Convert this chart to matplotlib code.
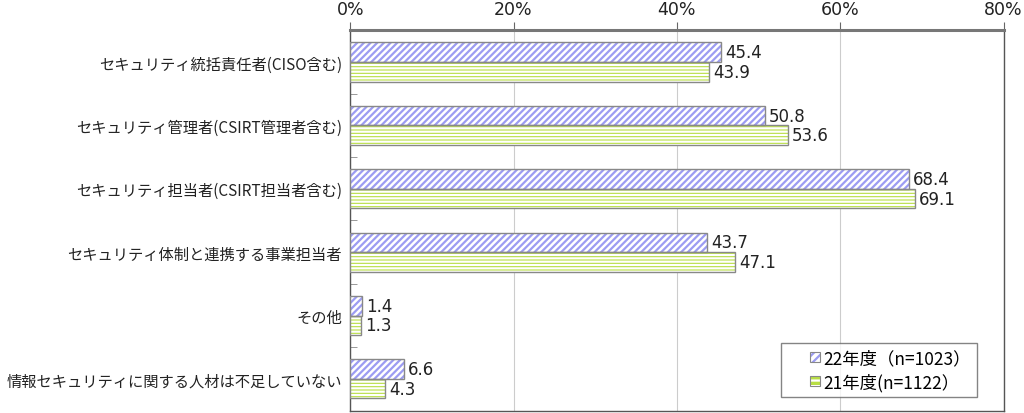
import numpy as np
import matplotlib.pyplot as plt
from matplotlib.patches import Patch, Rectangle
from matplotlib.legend_handler import HandlerPatch, HandlerTuple

plt.rcParams['font.family'] = ['Noto Sans CJK JP', 'DejaVu Sans']
plt.rcParams['hatch.linewidth'] = 1.6

categories = [
    'セキュリティ統括責任者(CISO含む)',
    'セキュリティ管理者(CSIRT管理者含む)',
    'セキュリティ担当者(CSIRT担当者含む)',
    'セキュリティ体制と連携する事業担当者',
    'その他',
    '情報セキュリティに関する人材は不足していない',
]
fy22 = [45.4, 50.8, 68.4, 43.7, 1.4, 6.6]
fy21 = [43.9, 53.6, 69.1, 47.1, 1.3, 4.3]
series_names = ['22年度（n=1023）', '21年度(n=1122）']
xticks = [0, 20, 40, 60, 80]

blue = '#9c9cf2'
green = '#b8de44'
outline = '#888888'

fig = plt.figure(figsize=(10.24, 4.14), dpi=100)
ax = fig.add_axes([0.342, 0.006, 0.638, 0.918])

y = np.arange(len(categories))
h = 0.31

# 22年度: white bars with blue diagonal hatch
ax.barh(y - h / 2, fy22, height=h, color='white', edgecolor=blue,
        hatch='/////', linewidth=0, zorder=3)
ax.barh(y - h / 2, fy22, height=h, color='none', edgecolor=outline,
        linewidth=1.0, zorder=4)
# 21年度: green bars with white horizontal stripes
ax.barh(y + h / 2, fy21, height=h, color=green, edgecolor='white',
        hatch='-----', linewidth=0, zorder=3)
ax.barh(y + h / 2, fy21, height=h, color='none', edgecolor=outline,
        linewidth=1.0, zorder=4)

num_font = dict(family='DejaVu Sans', fontsize=12, color='#222222')
for i in range(len(categories)):
    ax.annotate(f'{fy22[i]:.1f}', (fy22[i], y[i] - h / 2), xytext=(3, 0),
                textcoords='offset points', va='center', ha='left', **num_font)
    ax.annotate(f'{fy21[i]:.1f}', (fy21[i], y[i] + h / 2), xytext=(3, 0),
                textcoords='offset points', va='center', ha='left', **num_font)

ax.set_xlim(0, 80)
ax.set_ylim(len(categories) - 0.5, -0.5)
ax.set_xticks(xticks)
ax.set_xticklabels([f'{t}%' for t in xticks], family='DejaVu Sans',
                   fontsize=12.5, color='#222222')
ax.xaxis.tick_top()
ax.tick_params(axis='x', length=6, color='#666666', pad=3)
ax.set_yticks(y)
ax.set_yticklabels(categories, fontsize=11, color='#222222')
ax.tick_params(axis='y', length=0, pad=6)
ax.set_yticks(np.arange(len(categories) - 1) + 0.5, minor=True)
ax.tick_params(axis='y', which='minor', length=5, direction='in', color='#888888')

ax.grid(axis='x', color='#cccccc', linewidth=0.8, zorder=0)
ax.set_axisbelow(True)
ax.spines['top'].set_linewidth(2.2)
ax.spines['top'].set_color('#777777')
for s in ['left', 'right', 'bottom']:
    ax.spines[s].set_color('#555555')
    ax.spines[s].set_linewidth(1.0)


def small_square(legend, orig_handle, xdescent, ydescent, width, height, fontsize):
    # small square handle placed at the right end of the handle area
    return Rectangle((width - height - xdescent, -ydescent), height, height)


handles = [
    (Patch(facecolor='white', edgecolor=blue, hatch='////', linewidth=0),
     Patch(facecolor='none', edgecolor=outline, linewidth=0.8)),
    (Patch(facecolor=green, edgecolor='white', hatch='---', linewidth=0),
     Patch(facecolor='none', edgecolor=outline, linewidth=0.8)),
]
leg = ax.legend(handles, series_names, loc='lower right',
                bbox_to_anchor=(0.96, 0.035), fontsize=12.5,
                frameon=True, fancybox=False, edgecolor='#666666',
                handlelength=1.9, handleheight=0.5, handletextpad=0.2,
                borderpad=0.35, labelspacing=0.3, borderaxespad=0,
                handler_map={tuple: HandlerTuple(ndivide=1, pad=0),
                             Patch: HandlerPatch(patch_func=small_square)})
leg.get_frame().set_linewidth(1.0)

fig.savefig('out.png', dpi=100)
